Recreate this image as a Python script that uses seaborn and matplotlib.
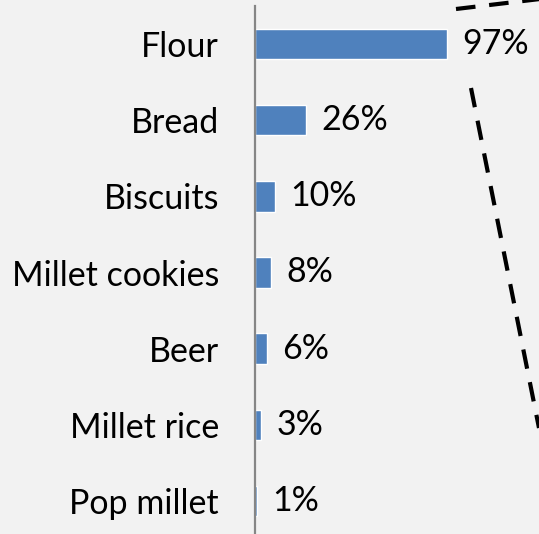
import matplotlib
matplotlib.use("Agg")
import matplotlib.pyplot as plt
from matplotlib.lines import Line2D
import seaborn as sns
import pandas as pd

products = ["Flour", "Bread", "Biscuits", "Millet cookies", "Beer", "Millet rice", "Pop millet"]
shares = [97, 26, 10, 8, 6, 3, 1]

BG = "#f2f2f2"
BAR = "#4f81bd"

sns.set_theme(style="white")
plt.rcParams["font.family"] = ["Lato", "DejaVu Sans"]

W, H = 539, 534
fig = plt.figure(figsize=(W / 100, H / 100), dpi=100, facecolor=BG)
ax = fig.add_axes([255 / W, -5 / H, 198 / W, 533 / H])
ax.set_facecolor(BG)

df = pd.DataFrame({"product": products, "share": shares})
sns.barplot(data=df, x="share", y="product", orient="h", color=BAR,
            saturation=1, width=0.4, ax=ax)

ax.set_xlim(0, 100)
ax.set_xlabel("")
ax.set_ylabel("")
ax.set_xticks([])
for side in ("top", "right", "bottom"):
    ax.spines[side].set_visible(False)
ax.spines["left"].set_color("#868686")
ax.spines["left"].set_linewidth(1.6)
ax.tick_params(axis="y", length=0, pad=26, labelsize=24.5, labelcolor="black")
for lbl in ax.get_yticklabels():
    lbl.set_va("center_baseline")

ax.bar_label(ax.containers[0], labels=[f"{v}%" for v in shares],
             padding=11, fontsize=24.5, color="black")

# dashed callout lines in the upper right
def px(x, y):
    return x / W, 1 - y / H

for (x0, y0), (x1, y1) in [((456, 9), (540, -1)), ((471, 88), (539, 428))]:
    a, b = px(x0, y0), px(x1, y1)
    fig.add_artist(Line2D([a[0], b[0]], [a[1], b[1]], color="black",
                          linewidth=3, linestyle=(0, (4.7, 3.3)),
                          transform=fig.transFigure, clip_on=False))

fig.savefig("out.png", dpi=100, facecolor=BG)
